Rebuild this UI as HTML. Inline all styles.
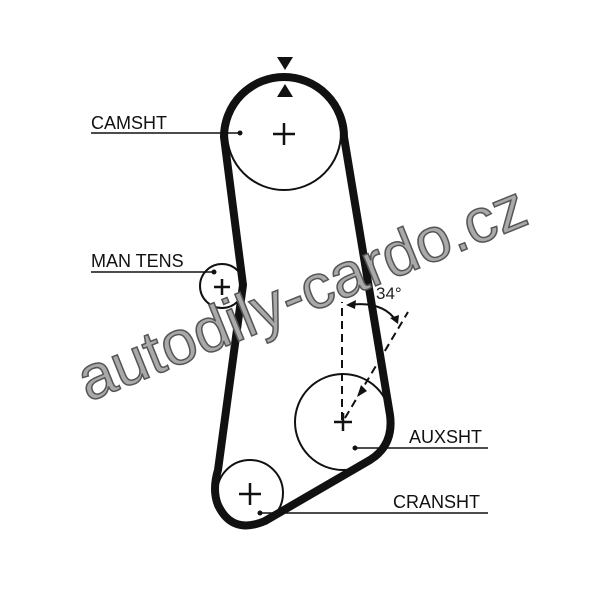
<!DOCTYPE html>
<html><head><style>html,body{margin:0;padding:0;background:#fff}svg{display:block}</style></head>
<body>
<svg width="600" height="589" viewBox="0 0 600 589" xmlns="http://www.w3.org/2000/svg" font-family="Liberation Sans, sans-serif">
<rect width="600" height="589" fill="#fff"/>
<!-- pulleys -->
<g fill="none" stroke="#111" stroke-width="2">
<circle cx="284" cy="133" r="57"/>
<circle cx="222" cy="286" r="22"/>
<circle cx="343" cy="422" r="48"/>
<circle cx="250" cy="493" r="33"/>
</g>
<!-- crosses -->
<g stroke="#111" stroke-width="2.5">
<path d="M273 134h22M284 123v22"/>
<path d="M214 287h16M222 279v16"/>
<path d="M334 422h18M343 413v18"/>
<path d="M239 494h22M250 483v22"/>
</g>
<!-- belt -->
<path d="M243 285 L224 137 A60 60 0 0 1 344 137 L390 415 Q394 445 370 460 L265 521 Q232 535 218 505 Q212 490 218 470 Z" fill="none" stroke="#111" stroke-width="8" stroke-linejoin="round"/>
<!-- top markers -->
<path d="M277 57h16l-8 13z M277 97h16l-8-13z" fill="#111"/>
<!-- watermark -->
<text x="0" y="0" transform="translate(88,402) rotate(-22)" font-size="62" fill="#a9a9a9" stroke="#555" stroke-width="1.5" textLength="478" lengthAdjust="spacingAndGlyphs">autodily-cardo.cz</text>
<!-- dashed -->
<g stroke="#111" stroke-width="2" stroke-dasharray="8,5" fill="none">
<path d="M342 420 V302"/>
<path d="M345 418 L408 312"/>
</g>
<path d="M348 305 Q383 300 397 322" fill="none" stroke="#111" stroke-width="2"/>
<path d="M346 305 l10 -5 l-1 9z M398 324 l-8 -6 l9 -3z M357 397 l4 -12 l6 6z" fill="#111"/>
<text x="376" y="299" font-size="17" fill="#222">34°</text>
<!-- labels -->
<g fill="#111" font-size="18">
<text x="91" y="129">CAMSHT</text>
<text x="91" y="267">MAN TENS</text>
<text x="409" y="443">AUXSHT</text>
<text x="393" y="508">CRANSHT</text>
</g>
<g stroke="#111" stroke-width="1.5">
<path d="M91 133H240M91 272H214M355 448H488M260 513H488"/>
</g>
<g fill="#111"><circle cx="240" cy="133" r="2.5"/><circle cx="214" cy="272" r="2.5"/><circle cx="355" cy="448" r="2.5"/><circle cx="260" cy="513" r="2.5"/></g>
</svg>
</body></html>
